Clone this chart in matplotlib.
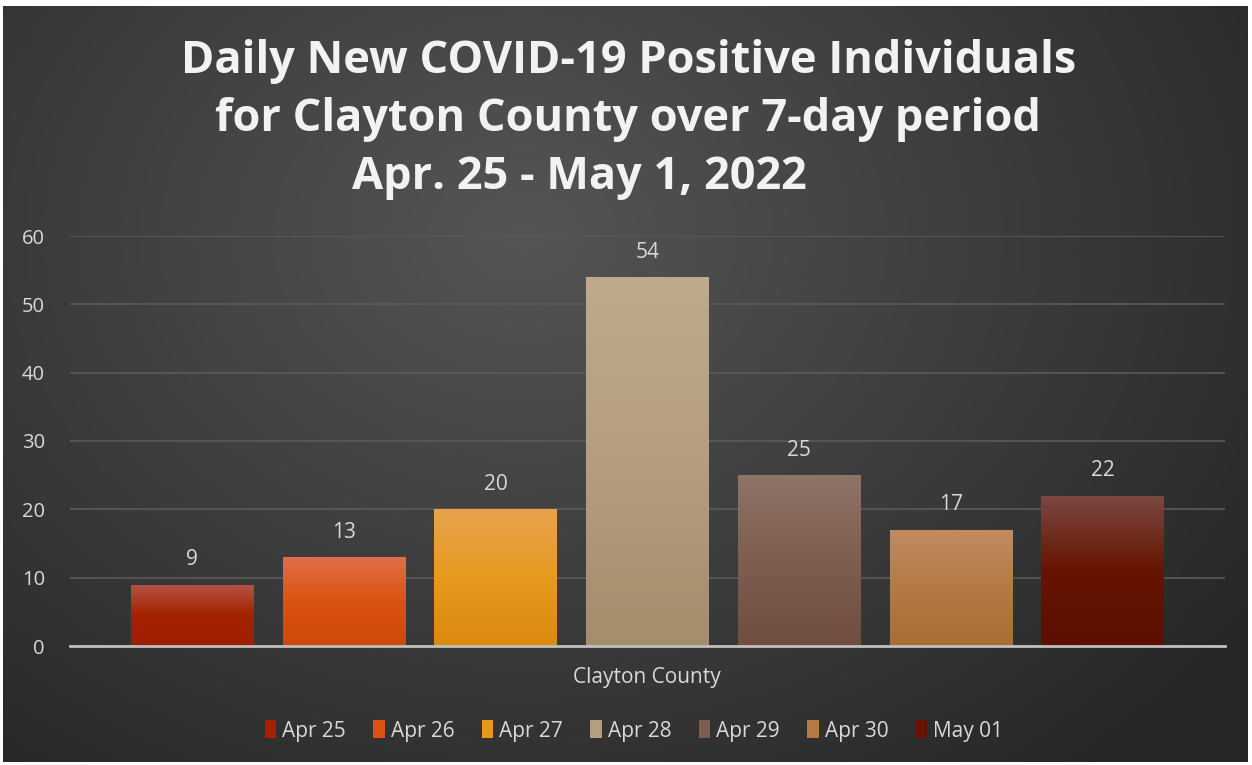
import numpy as np
import matplotlib
matplotlib.use("Agg")
import matplotlib.pyplot as plt
from matplotlib.colors import LinearSegmentedColormap, to_rgb
from matplotlib.patches import Rectangle

# ---- data ----
dates = ["Apr 25", "Apr 26", "Apr 27", "Apr 28", "Apr 29", "Apr 30", "May 01"]
values = [9, 13, 20, 54, 25, 17, 22]
category = "Clayton County"
yticks = [0, 10, 20, 30, 40, 50, 60]
title_lines = ["Daily New COVID-19 Positive Individuals",
               "for Clayton County over 7-day period",
               "Apr. 25 - May 1, 2022"]
top_colors = ["#b35446", "#e06e4a", "#e8a24e", "#bfaa8c", "#8f7467", "#c18c62", "#7b4942"]
bot_colors = ["#9e1e00", "#cf4806", "#db8a0e", "#a48d6b", "#6f4e40", "#a96e34", "#5c1000"]
mid_colors = ["#a52200", "#dc5210", "#e59a1e", "#b49e7e", "#7e5e50", "#b57a44", "#651400"]

W, H = 1252, 765
fig = plt.figure(figsize=(W / 100, H / 100), dpi=100)
fig.patch.set_facecolor("white")

# background with radial gradient
bg = fig.add_axes([3 / W, 1 - 762 / H, 1245 / W, 756 / H])
bg.set_axis_off()
yy, xx = np.mgrid[0:756, 0:1245]
d = np.sqrt(((xx - 520) / 900.0) ** 2 + ((yy - 230) / 700.0) ** 2)
d = np.clip(d, 0, 1)
c_in = np.array(to_rgb("#555555"))
c_out = np.array(to_rgb("#262626"))
img = c_in[None, None, :] * (1 - d[..., None]) + c_out[None, None, :] * d[..., None]
bg.imshow(img, aspect="auto", extent=[0, 1, 0, 1])
bg.set_xlim(0, 1)
bg.set_ylim(0, 1)

# main axes
x0, x1 = 70, 1225
y0, y1 = 646, 236
ax = fig.add_axes([x0 / W, 1 - y0 / H, (x1 - x0) / W, (y0 - y1) / H])
ax.patch.set_alpha(0)
xs = np.arange(len(values))
ax.set_xlim(-0.806, len(values) - 1 + 0.806)
ax.set_ylim(0, 60)
bars = ax.bar(xs, values, width=0.81, color=mid_colors, zorder=3)

for b, ct, cm, cb in zip(bars, top_colors, mid_colors, bot_colors):
    cmap = LinearSegmentedColormap.from_list("g", [cb, cm, ct])
    grad = np.linspace(0, 1, 256).reshape(-1, 1)
    x, y = b.get_x(), b.get_y()
    w, h = b.get_width(), b.get_height()
    im = ax.imshow(grad, cmap=cmap, aspect="auto", origin="lower",
                   extent=[x, x + w, y, y + h], zorder=4)
    im.set_clip_path(b)
    ax.text(x + w / 2, h + 2.1, str(int(h)), ha="center", va="bottom",
            fontsize=15, color="#d9d9d9", family="Open Sans", zorder=5)

ax.set_yticks(yticks)
ax.set_yticklabels([str(t) for t in yticks], fontsize=14.5, color="#d9d9d9", family="Open Sans")
ax.tick_params(axis="y", length=0, pad=18)
ax.set_xticks([])
ax.grid(axis="y", color="#5a5a5a", linewidth=1.2, zorder=1)
for s in ["top", "right", "left"]:
    ax.spines[s].set_visible(False)
ax.spines["bottom"].set_color("#bfbfbf")
ax.spines["bottom"].set_linewidth(2)
ax.spines["bottom"].set_zorder(6)
ax.set_xlim(-0.806, len(values) - 1 + 0.806)

fig.text(647 / W, 1 - 677 / H, category, ha="center", va="center",
         fontsize=15, color="#d9d9d9", family="Open Sans")

# titles
tcfg = [(629, 61), (628, 119), (579, 178)]
for line, (cx, cy) in zip(title_lines, tcfg):
    fig.text(cx / W, 1 - cy / H, line, ha="center", va="center", fontsize=32.5,
             fontweight="bold", color="#f2f2f2", family="Open Sans")

# legend
handles = [Rectangle((0, 0), 1, 1, facecolor=c) for c in mid_colors]
leg = fig.legend(handles, dates, loc="center", bbox_to_anchor=(634 / W, 1 - 731 / H),
                 ncol=7, frameon=False, handlelength=0.55, handleheight=0.95,
                 handletextpad=0.3, columnspacing=1.3, labelcolor="#d9d9d9",
                 prop={"family": "Open Sans", "size": 15})

fig.savefig("out.png", dpi=100, facecolor="white")
